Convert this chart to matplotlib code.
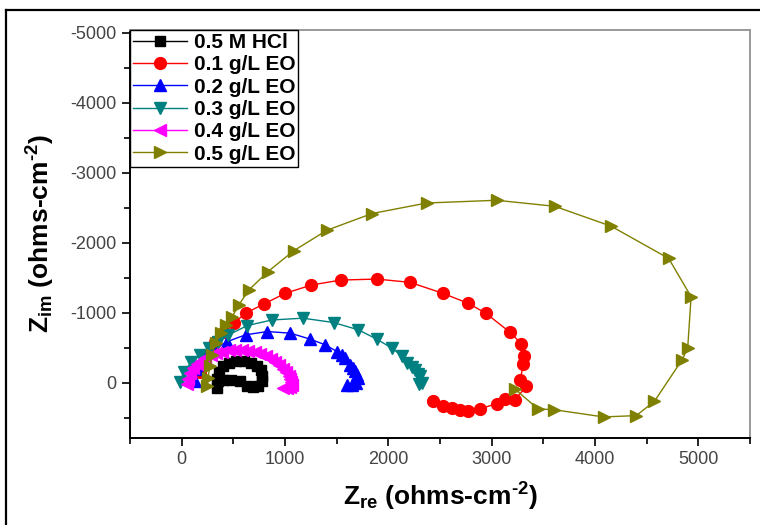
import matplotlib
matplotlib.use('Agg')
import matplotlib.pyplot as plt
from matplotlib.lines import Line2D
from matplotlib.ticker import MultipleLocator

plt.rcParams['font.family'] = ['Liberation Sans', 'DejaVu Sans']
plt.rcParams['axes.unicode_minus'] = False
plt.rcParams['mathtext.fontset'] = 'custom'
plt.rcParams['mathtext.rm'] = 'Liberation Sans:bold'
plt.rcParams['mathtext.it'] = 'Liberation Sans:bold'
plt.rcParams['mathtext.bf'] = 'Liberation Sans:bold'

# Nyquist data (Zre, Zim) for each solution
hcl_x = [345, 340, 360, 400, 460, 530, 600, 670, 725, 765, 780, 775, 740, 690, 630, 560, 480, 400, 350]
hcl_y = [70, -60, -160, -240, -285, -305, -305, -285, -245, -180, -100, -20, 40, 60, 40, -20, -40, -40, -30]

eo01_x = [180, 240, 320, 410, 505, 618, 795, 1004, 1255, 1541, 1889, 2210, 2526, 2773, 2944,
          3176, 3288, 3311, 3304, 3279, 3337, 3224, 3127, 3047, 2886, 2773, 2693, 2613, 2532, 2436]
eo01_y = [-150, -380, -580, -730, -850, -993, -1125, -1278, -1396, -1467, -1481, -1434, -1278, -1135, -993,
          -722, -556, -375, -271, -43, 52, 242, 233, 299, 375, 408, 385, 361, 328, 266]

eo02_x = [130, 160, 220, 300, 441, 618, 827, 1052, 1245, 1390, 1503, 1550, 1583, 1631,
          1660, 1680, 1700, 1711, 1690, 1648, 1600]
eo02_y = [-20, -200, -350, -470, -588, -684, -731, -708, -622, -541, -446, -400, -352, -256,
          -210, -161, -110, -67, 10, 28, 28]

eo03_x = [-20, 20, 90, 180, 260, 350, 450, 634, 875, 1175, 1470, 1711, 1889, 2034, 2130,
          2178, 2230, 2259, 2290, 2307, 2323, 2300]
eo03_y = [-10, -150, -290, -400, -500, -580, -680, -816, -897, -922, -860, -755, -622, -494, -385,
          -281, -230, -185, -130, -90, 5, 20]

eo04_x = [50, 60, 80, 110, 145, 185, 230, 280, 335, 395, 455, 520, 585, 645, 705, 760, 812,
          860, 905, 945, 980, 1010, 1035, 1052, 1062, 1066, 1050, 1020, 985]
eo04_y = [20, -60, -135, -205, -265, -315, -355, -390, -420, -445, -462, -470, -470, -460, -440, -413, -380,
          -340, -295, -250, -200, -150, -100, -50, -5, 35, 60, 72, 75]

eo05_x = [248, 254, 273, 296, 328, 376, 425, 489, 553, 650, 833, 1084, 1406, 1841, 2372,
          3047, 3610, 4157, 4713, 4930, 4897, 4843, 4575, 4399, 4083, 3600, 3449, 3224]
eo05_y = [53, -67, -232, -399, -566, -708, -826, -944, -1111, -1325, -1585, -1885, -2179, -2417, -2568,
          -2607, -2521, -2236, -1776, -1229, -494, -328, 266, 470, 489, 385, 375, 90]

fig = plt.figure(figsize=(7.6, 5.25), dpi=100)
ax = fig.add_axes([130 / 760, 1 - 438 / 525, 620 / 760, 408 / 525])

ax.plot(hcl_x, hcl_y, '-s', color='black', ms=6.5, lw=1, label='0.5 M HCl')
ax.plot(eo01_x, eo01_y, '-o', color='#ff0000', ms=8.5, lw=1, label='0.1 g/L EO')
ax.plot(eo02_x, eo02_y, '-^', color='#0000ff', ms=8, lw=1, label='0.2 g/L EO')
ax.plot(eo03_x, eo03_y, '-v', color='#008080', ms=8, lw=1, label='0.3 g/L EO')
ax.plot(eo04_x, eo04_y, '-<', color='#ff00ff', ms=8, lw=1, label='0.4 g/L EO')
ax.plot(eo05_x, eo05_y, '->', color='#808000', ms=9, lw=1, label='0.5 g/L EO')

ax.set_xlim(-500, 5500)
ax.set_ylim(790, -5040)
ax.xaxis.set_major_locator(MultipleLocator(1000))
ax.xaxis.set_minor_locator(MultipleLocator(500))
ax.yaxis.set_major_locator(MultipleLocator(1000))
ax.yaxis.set_minor_locator(MultipleLocator(500))
ax.tick_params(which='major', direction='out', length=6, width=1.2, labelsize=13,
               labelcolor='#444444', top=False, right=False)
ax.tick_params(which='minor', direction='out', length=4, width=1.2, top=False, right=False)

for side in ['left', 'bottom']:
    ax.spines[side].set_linewidth(1.4)
    ax.spines[side].set_color('black')
for side in ['top', 'right']:
    ax.spines[side].set_linewidth(1.4)
    ax.spines[side].set_color('#999999')

ax.set_xlabel(r'Z$_{\rm re}$ (ohms-cm$^{\text{-}2}$)', fontsize=19, fontweight='bold', labelpad=9)
ax.set_ylabel(r'Z$_{\rm im}$ (ohms-cm$^{\text{-}2}$)', fontsize=19, fontweight='bold', labelpad=10)

leg = ax.legend(loc='upper left', borderaxespad=0, fancybox=False, framealpha=1,
                edgecolor='black', prop={'weight': 'bold', 'size': 15},
                handlelength=2.6, handletextpad=0.3, labelspacing=0.16, borderpad=0.15)
leg.get_frame().set_linewidth(1)

# outer frame lines
fig.add_artist(Line2D([6 / 760, 6 / 760], [0, 1 - 10 / 525], transform=fig.transFigure,
                      color='black', lw=1.6))
fig.add_artist(Line2D([6 / 760, 1], [1 - 10 / 525, 1 - 10 / 525], transform=fig.transFigure,
                      color='black', lw=1.6))

fig.savefig('out.png', dpi=100)
